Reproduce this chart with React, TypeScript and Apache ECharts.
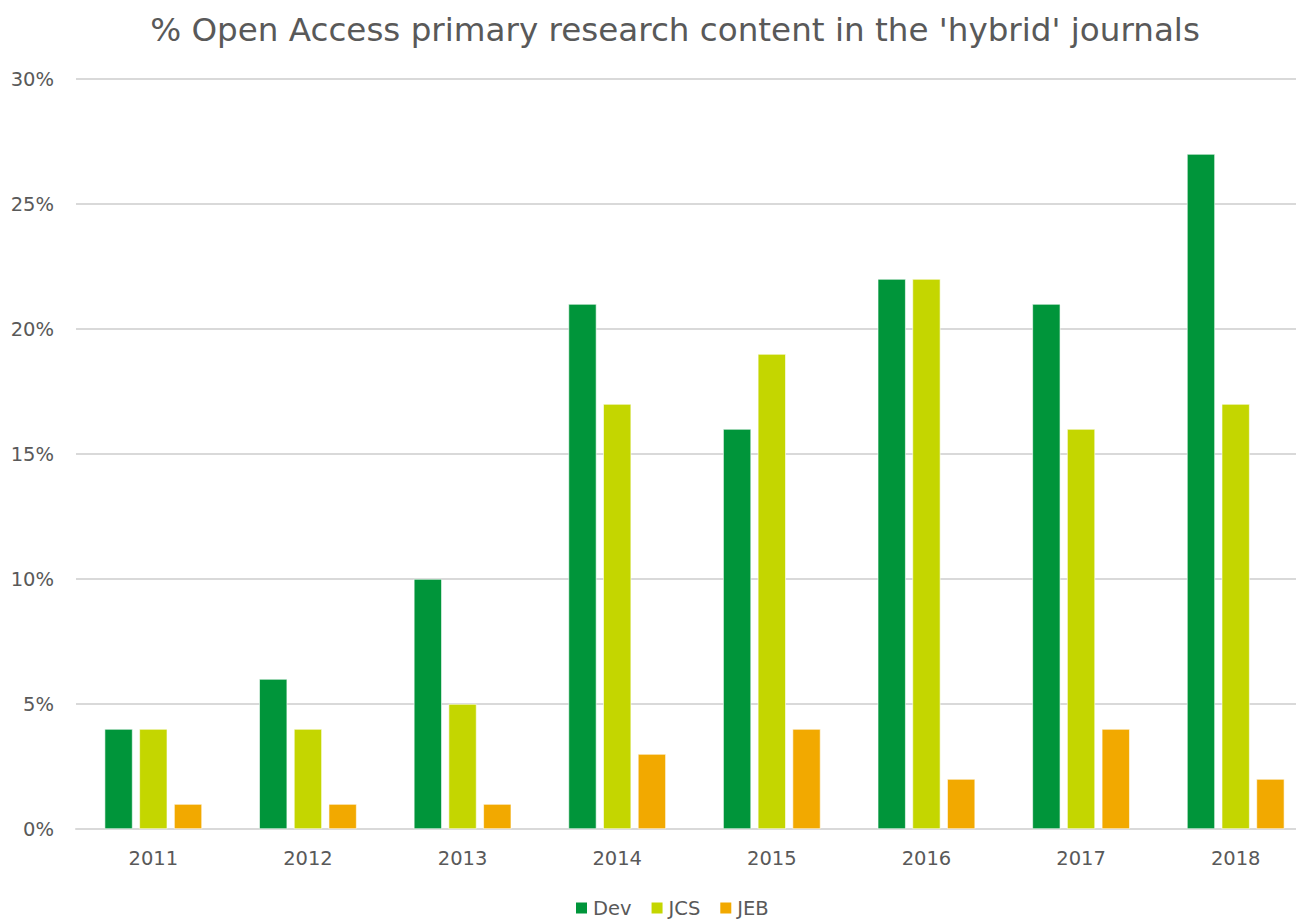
import React, { useEffect, useRef } from "react";
import * as echarts from "echarts";

const years = ["2011", "2012", "2013", "2014", "2015", "2016", "2017", "2018"];
const dev = [4, 6, 10, 21, 16, 22, 21, 27];
const jcs = [4, 4, 5, 17, 19, 22, 16, 17];
const jeb = [1, 1, 1, 3, 4, 2, 4, 2];
const titleText = "% Open Access primary research content in the 'hybrid' journals";

const FONT = "DejaVu Sans";
const GREY = "#595959";

export default function App() {
  const ref = useRef<HTMLDivElement>(null);
  useEffect(() => {
    const chart = echarts.init(ref.current!, null, { renderer: "svg" });
    const bar = (name: string, data: number[], color: string) => ({
      name,
      type: "bar",
      data,
      barWidth: 28,
      barGap: "24%",
      itemStyle: { color, borderColor: "#ffffff", borderWidth: 0.6 },
    });
    chart.setOption({
      animation: false,
      backgroundColor: "#ffffff",
      textStyle: { fontFamily: FONT },
      title: {
        text: titleText,
        left: 670,
        textAlign: "center",
        top: 8,
        textStyle: { fontFamily: FONT, fontSize: 32.6, fontWeight: "normal", color: GREY },
      },
      legend: {
        bottom: 0,
        left: 569,
        itemWidth: 13,
        itemHeight: 13,
        itemGap: 18,
        icon: "rect",
        textStyle: { fontFamily: FONT, fontSize: 19.5, color: GREY },
        data: ["Dev", "JCS", "JEB"],
      },
      grid: { left: 76, right: 0, top: 79, bottom: 94, containLabel: false },
      xAxis: {
        type: "category",
        data: years,
        axisTick: { show: false },
        axisLine: { lineStyle: { color: "#d9d9d9", width: 2 } },
        axisLabel: { fontFamily: FONT, fontSize: 19.5, color: GREY, margin: 19 },
      },
      yAxis: {
        type: "value",
        min: 0,
        max: 30,
        interval: 5,
        axisLine: { show: false },
        axisTick: { show: false },
        splitLine: { lineStyle: { color: "#d9d9d9", width: 2 } },
        axisLabel: { fontFamily: FONT, fontSize: 19.5, color: GREY, margin: 22, formatter: "{value}%" },
      },
      series: [bar("Dev", dev, "#00953A"), bar("JCS", jcs, "#C4D600"), bar("JEB", jeb, "#F2A900")],
    });
    return () => chart.dispose();
  }, []);
  return (
    <div
      style={{
        position: "fixed",
        left: 0,
        top: 0,
        width: 1296,
        height: 923,
        overflow: "hidden",
        background: "#fff",
      }}
    >
      <div ref={ref} style={{ width: 1313, height: 923 }} />
    </div>
  );
}
